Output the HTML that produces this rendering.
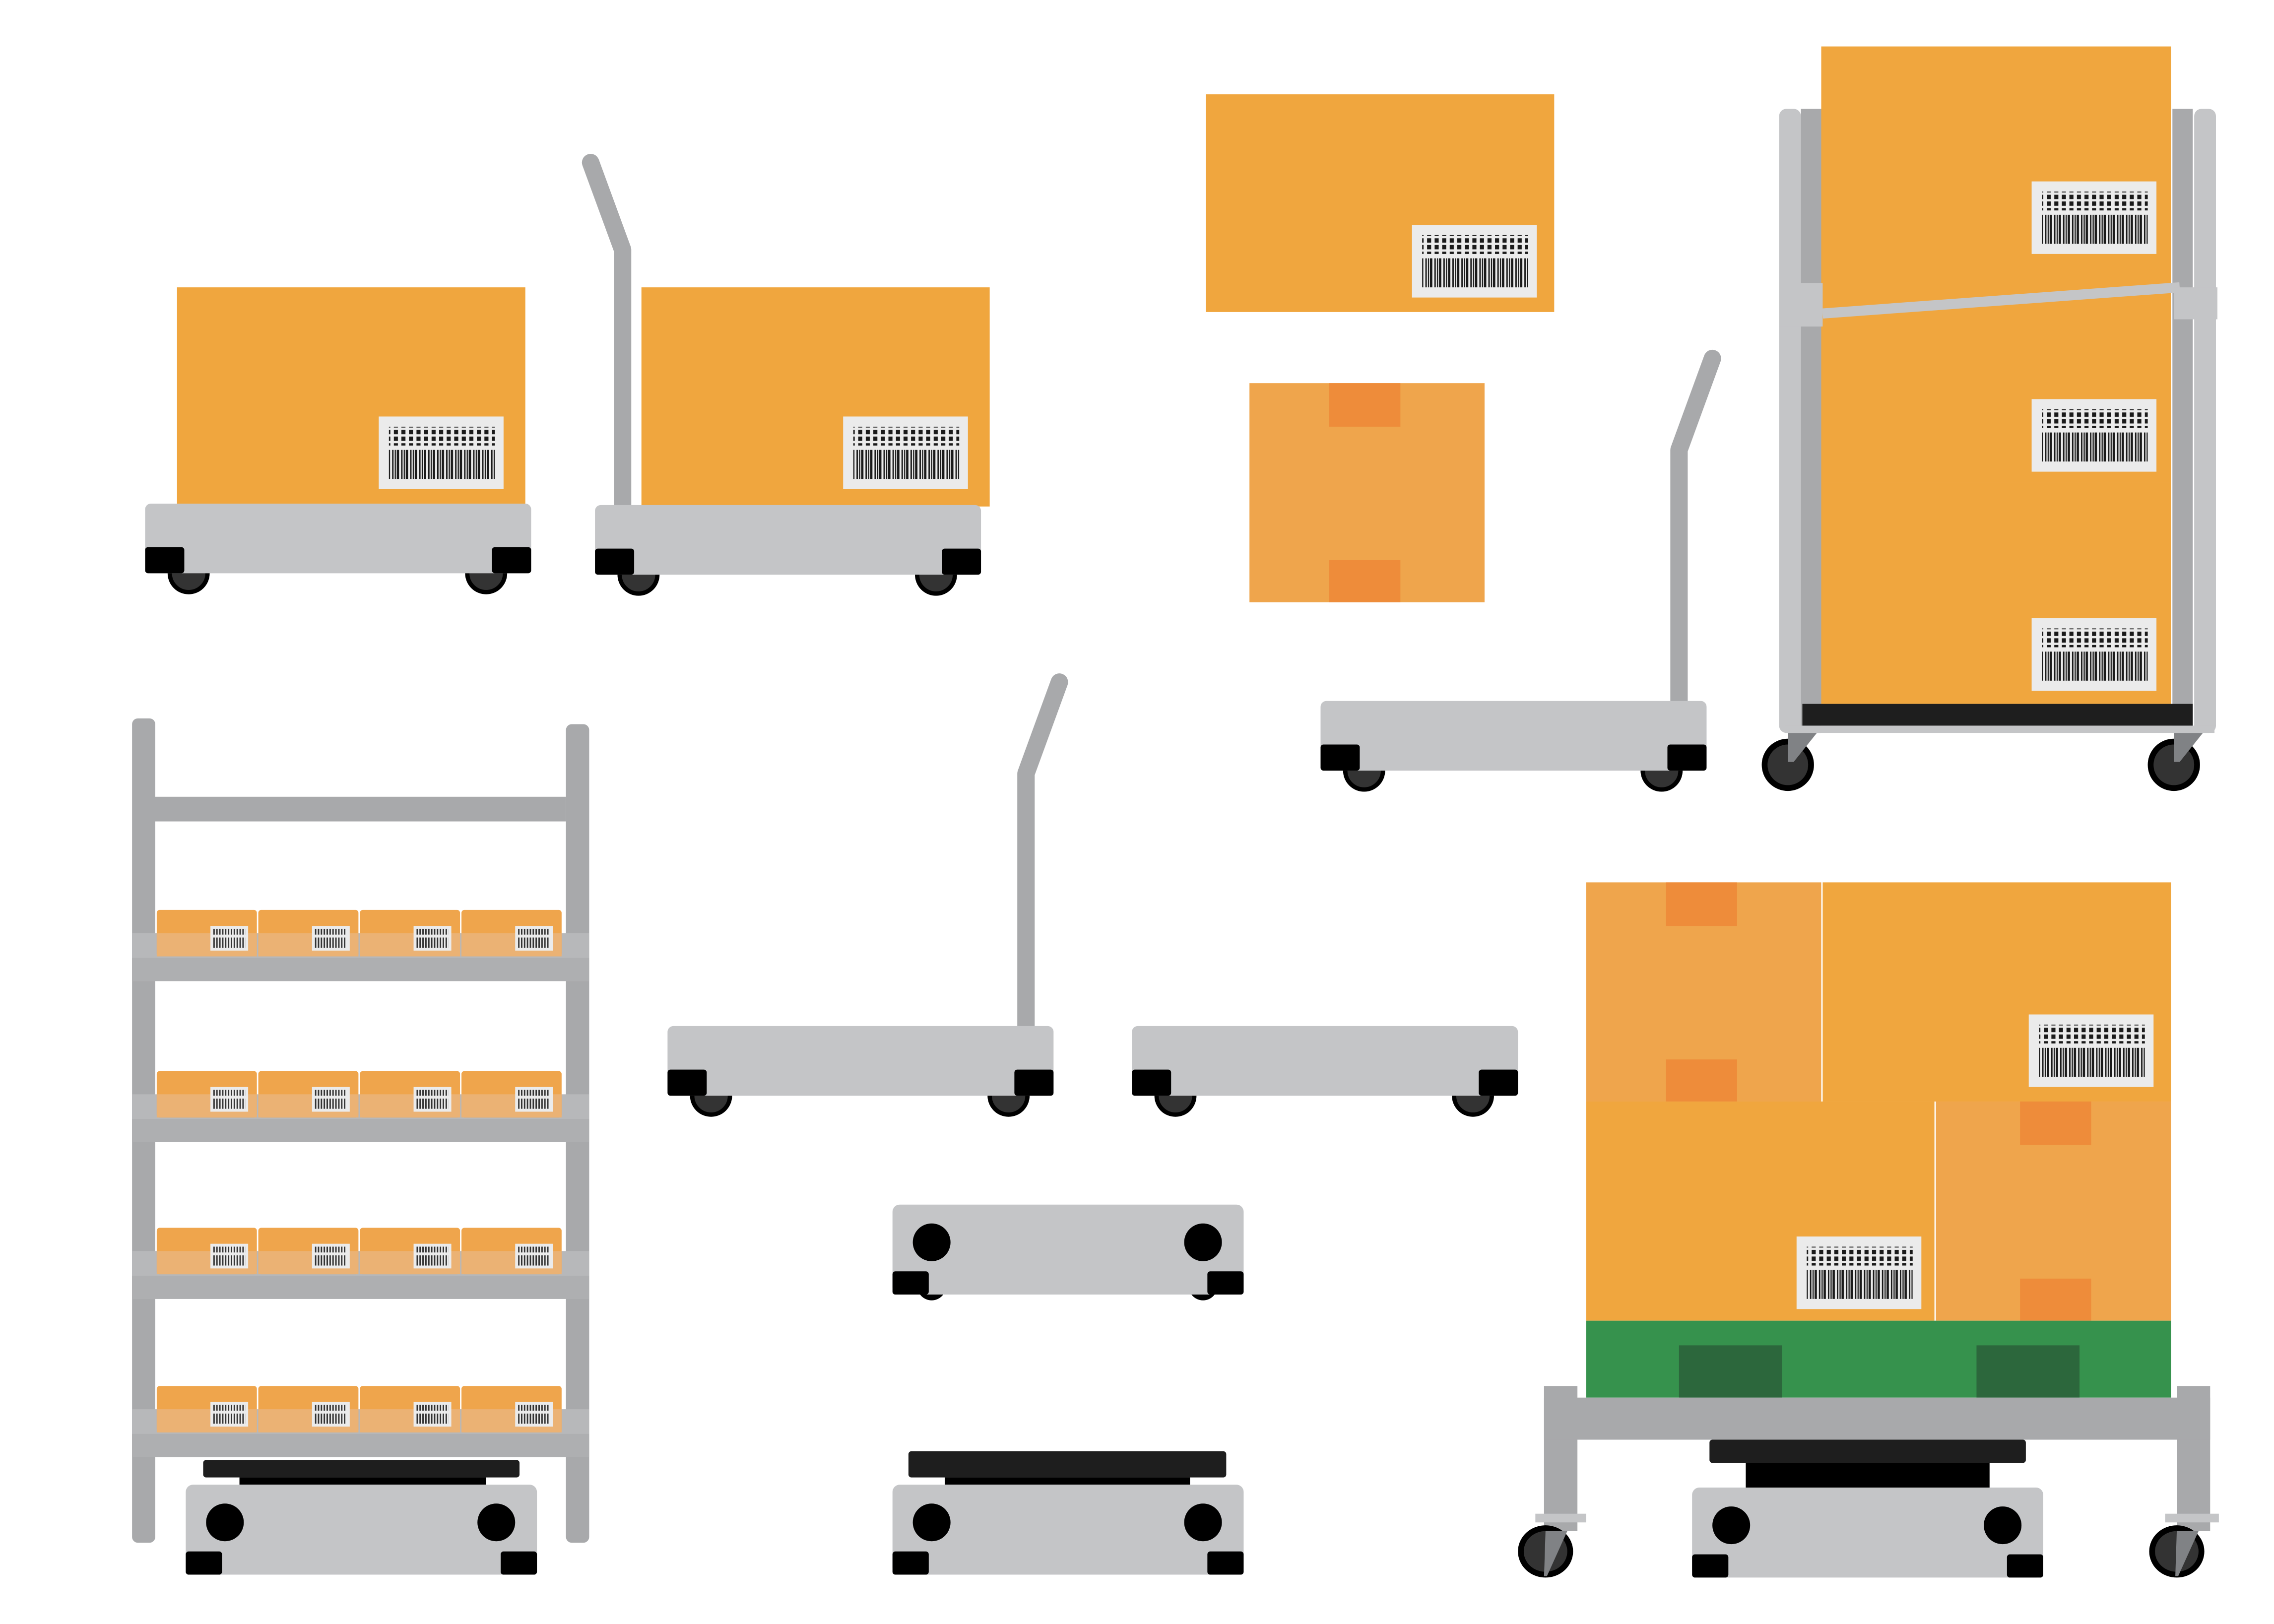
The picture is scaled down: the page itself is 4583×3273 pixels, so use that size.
<!DOCTYPE html>
<html><head><meta charset="utf-8"><style>html,body{margin:0;padding:0;background:#fff}svg{display:block}</style></head>
<body>
<svg width="4583" height="3273" viewBox="0 0 1567 1119" preserveAspectRatio="none" xmlns="http://www.w3.org/2000/svg">
<defs>
<pattern id="dots" width="5.2" height="4.6" patternUnits="userSpaceOnUse"><rect x="0" y="0" width="2.8" height="3" fill="#1a1a1a"/></pattern>
<pattern id="bars" width="6.2" height="10" patternUnits="userSpaceOnUse"><rect x="0" y="0" width="1.6" height="10" fill="#1a1a1a"/><rect x="3" y="0" width="1" height="10" fill="#1a1a1a"/><rect x="4.8" y="0" width="0.8" height="10" fill="#1a1a1a"/></pattern>
<pattern id="sbars" width="2" height="10" patternUnits="userSpaceOnUse"><rect x="0" y="0" width="1" height="10" fill="#333"/></pattern>
<g id="lab"><rect width="86" height="50" fill="#ebebeb"/><rect x="7" y="7" width="73" height="13" fill="url(#dots)"/><rect x="7" y="23" width="73" height="20" fill="url(#bars)"/></g>
<g id="slab"><rect width="26" height="17" fill="#ebebeb"/><rect x="2" y="2" width="22" height="4" fill="url(#sbars)"/><rect x="2" y="8" width="22" height="7" fill="url(#sbars)"/></g>
<g id="cart"><circle cx="30" cy="48" r="13" fill="#333" stroke="#000" stroke-width="3"/><circle cx="235" cy="48" r="13" fill="#333" stroke="#000" stroke-width="3"/><rect x="0" y="0" width="266" height="48" rx="4" fill="#c4c5c7"/><rect x="0" y="30" width="27" height="18" rx="2" fill="#000"/><rect x="239" y="30" width="27" height="18" rx="2" fill="#000"/></g>
<g id="agv"><rect x="0" y="0" width="242" height="62" rx="5" fill="#c4c5c7"/><ellipse cx="27" cy="26" rx="13" ry="13" fill="#000"/><ellipse cx="214" cy="26" rx="13" ry="13" fill="#000"/><rect x="0" y="46" width="25" height="16" rx="2" fill="#000"/><rect x="217" y="46" width="25" height="16" rx="2" fill="#000"/></g>
<g id="sbox"><rect width="162" height="151" fill="#efa54c"/><rect x="55" width="49" height="30" fill="#ee8c3a"/><rect x="55" y="122" width="49" height="29" fill="#ee8c3a"/></g>
</defs>

<rect x="122" y="198" width="240" height="151" fill="#f0a63e"/>
<use href="#lab" x="261" y="287"/>
<use href="#cart" x="100" y="347"/>
<path d="M407 112 L429 172 L429 352" fill="none" stroke="#a8a9ab" stroke-width="12" stroke-linecap="round" stroke-linejoin="round"/>
<rect x="442" y="198" width="240" height="151" fill="#f0a63e"/>
<use href="#lab" x="581" y="287"/>
<use href="#cart" x="410" y="348"/>

<rect x="831" y="65" width="240" height="150" fill="#f0a63e"/>
<use href="#lab" x="973" y="155"/>
<use href="#sbox" x="861" y="264"/>

<path d="M1180 247 L1157 310 L1157 486" fill="none" stroke="#a8a9ab" stroke-width="12" stroke-linecap="round" stroke-linejoin="round"/>
<use href="#cart" x="910" y="483"/>

<rect x="1226" y="75" width="15" height="430" rx="5" fill="#c4c5c7"/>
<rect x="1241" y="75" width="14" height="430" fill="#a8a9ab"/>
<rect x="1497" y="75" width="14" height="430" fill="#a8a9ab"/>
<rect x="1512" y="75" width="15" height="430" rx="5" fill="#c4c5c7"/>
<rect x="1255" y="32" width="241" height="168" fill="#f0a63e"/>
<rect x="1255" y="200" width="241" height="132" fill="#f0a63e"/>
<rect x="1255" y="332" width="241" height="153" fill="#f0a63e"/>
<use href="#lab" x="1400" y="125"/>
<use href="#lab" x="1400" y="275"/>
<use href="#lab" x="1400" y="426"/>
<path d="M1256 216 L1502 198" stroke="#c4c5c7" stroke-width="7"/>
<rect x="1226" y="195" width="30" height="30" fill="#c4c5c7"/>
<rect x="1498" y="198" width="30" height="22" fill="#c4c5c7"/>
<rect x="1242" y="485" width="269" height="15" fill="#1e1e1e"/>
<rect x="1230" y="500" width="296" height="5" fill="#c4c5c7"/>
<circle cx="1232" cy="527" r="16" fill="#333" stroke="#000" stroke-width="4"/>
<circle cx="1498" cy="527" r="16" fill="#333" stroke="#000" stroke-width="4"/>
<path d="M1232 505 L1252 505 L1236 525 L1232 525Z" fill="#808285"/>
<path d="M1498 505 L1518 505 L1502 525 L1498 525Z" fill="#808285"/>

<rect x="91" y="495" width="16" height="568" rx="4" fill="#a8a9ab"/>
<rect x="390" y="499" width="16" height="564" rx="4" fill="#a8a9ab"/>
<rect x="107" y="549" width="283" height="17" fill="#a8a9ab"/>
<g id="shelfrow">
<rect x="91" y="643" width="315" height="33" fill="#b7b8ba"/>
<rect x="91" y="660" width="315" height="16" fill="#aeafb1"/>
<rect x="108" y="627" width="69" height="32" rx="2" fill="#efa54c"/><rect x="108" y="643" width="69" height="16" fill="#ebb274"/>
<rect x="178" y="627" width="69" height="32" rx="2" fill="#efa54c"/><rect x="178" y="643" width="69" height="16" fill="#ebb274"/>
<rect x="248" y="627" width="69" height="32" rx="2" fill="#efa54c"/><rect x="248" y="643" width="69" height="16" fill="#ebb274"/>
<rect x="318" y="627" width="69" height="32" rx="2" fill="#efa54c"/><rect x="318" y="643" width="69" height="16" fill="#ebb274"/>
<use href="#slab" x="145" y="638"/><use href="#slab" x="215" y="638"/><use href="#slab" x="285" y="638"/><use href="#slab" x="355" y="638"/>
</g>
<use href="#shelfrow" y="111"/>
<use href="#shelfrow" y="219"/>
<use href="#shelfrow" y="328"/>
<rect x="140" y="1006" width="218" height="12" rx="2" fill="#1e1e1e"/>
<rect x="165" y="1018" width="170" height="5" fill="#000"/>
<use href="#agv" x="128" y="1023"/>

<path d="M730 470 L707 533 L707 710" fill="none" stroke="#a8a9ab" stroke-width="12" stroke-linecap="round" stroke-linejoin="round"/>
<use href="#cart" x="460" y="707"/>
<use href="#cart" x="780" y="707"/>
<circle cx="642" cy="886" r="10" fill="#000"/><circle cx="829" cy="886" r="10" fill="#000"/>
<use href="#agv" x="615" y="830"/>
<rect x="626" y="1000" width="219" height="18" rx="2" fill="#1e1e1e"/>
<rect x="651" y="1018" width="169" height="5" fill="#000"/>
<use href="#agv" x="615" y="1023"/>

<use href="#sbox" x="1093" y="608"/>
<rect x="1256" y="608" width="240" height="151" fill="#f0a63e"/>
<use href="#lab" x="1398" y="699"/>
<rect x="1093" y="759" width="240" height="151" fill="#f0a63e"/>
<use href="#lab" x="1238" y="852"/>
<g transform="translate(1334 759)"><rect width="162" height="151" fill="#efa54c"/><rect x="58" width="49" height="30" fill="#ee8c3a"/><rect x="58" y="122" width="49" height="29" fill="#ee8c3a"/></g>
<rect x="1093" y="910" width="403" height="53" fill="#36924d"/>
<rect x="1157" y="927" width="71" height="36" fill="#2c673c"/>
<rect x="1362" y="927" width="71" height="36" fill="#2c673c"/>
<rect x="1064" y="955" width="23" height="100" fill="#a8a9ab"/>
<rect x="1500" y="955" width="23" height="100" fill="#a8a9ab"/>
<rect x="1064" y="963" width="459" height="29" fill="#a8a9ab"/>
<rect x="1178" y="992" width="218" height="16" rx="2" fill="#1e1e1e"/>
<rect x="1203" y="1008" width="168" height="19" fill="#000"/>
<use href="#agv" x="1166" y="1025"/>
<ellipse cx="1065" cy="1069" rx="17" ry="16" fill="#333" stroke="#000" stroke-width="4"/>
<ellipse cx="1500" cy="1069" rx="17" ry="16" fill="#333" stroke="#000" stroke-width="4"/>
<path d="M1065 1055 L1080 1055 L1066 1086 L1064 1086Z" fill="#808285"/>
<path d="M1500 1055 L1515 1055 L1501 1086 L1499 1086Z" fill="#808285"/>
<rect x="1058" y="1043" width="35" height="6" fill="#c4c5c7"/>
<rect x="1492" y="1043" width="37" height="6" fill="#c4c5c7"/>
</svg>
</body></html>
